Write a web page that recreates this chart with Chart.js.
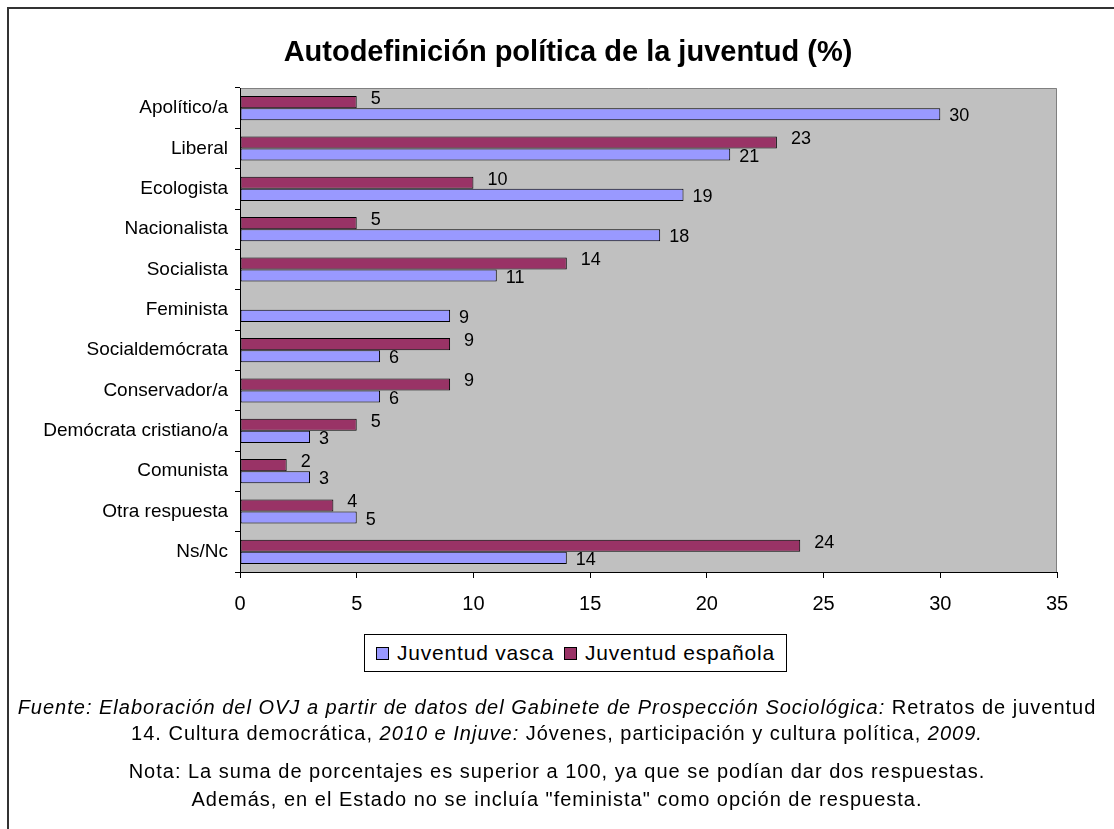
<!DOCTYPE html>
<html>
<head>
<meta charset="utf-8">
<script src="https://cdn.jsdelivr.net/npm/chart.js@4.4.0/dist/chart.umd.min.js"></script>
<style>
  body { margin: 0; background: #fff; font-family: "Liberation Sans", Arial, sans-serif; color: #000; }
  #wrap { position: relative; width: 1114px; height: 829px; overflow: hidden; }
  #frame { position: absolute; left: 7px; top: 7px; width: 1200px; height: 900px; border-left: 2px solid #333; border-top: 2px solid #333; }
  #chart { position: absolute; left: 0; top: 0; }
  #title { position: absolute; left: 11px; width: 1114px; top: 33px; text-align: center; font-weight: bold; font-size: 29px; line-height: 36px; }
  #legend { position: absolute; left: 364px; top: 634px; width: 421px; height: 36px; border: 1px solid #000; background: #fff; }
  #legend .sw { position: absolute; top: 12px; width: 11px; height: 11px; border: 1px solid #000; }
  #legend .tx { position: absolute; top: 5px; font-size: 21px; line-height: 26px; letter-spacing: 0.8px; white-space: nowrap; }
  .foot { position: absolute; left: 0; width: 1114px; text-align: center; font-size: 20px; letter-spacing: 1px; line-height: 24px; white-space: nowrap; }
</style>
</head>
<body>
<div id="wrap">
  <div id="frame"></div>
  <canvas id="chart" width="1114" height="829"></canvas>
  <div id="title">Autodefinición política de la juventud (%)</div>
  <div id="legend">
    <div class="sw" style="left:11px;background:#9999FF"></div>
    <div class="tx" style="left:32px">Juventud vasca</div>
    <div class="sw" style="left:199px;background:#993366"></div>
    <div class="tx" style="left:220px">Juventud española</div>
  </div>
  <div class="foot" style="top:695px"><i>Fuente: Elaboración del OVJ a partir de datos del Gabinete de Prospección Sociológica:</i> Retratos de juventud</div>
  <div class="foot" style="top:721px">14. Cultura democrática, <i>2010 e Injuve:</i> Jóvenes, participación y cultura política, <i>2009.</i></div>
  <div class="foot" style="top:759px">Nota: La suma de porcentajes es superior a 100, ya que se podían dar dos respuestas.</div>
  <div class="foot" style="top:787px">Además, en el Estado no se incluía "feminista" como opción de respuesta.</div>
</div>
<script>
const categorias = ["Apolítico/a", "Liberal", "Ecologista", "Nacionalista", "Socialista", "Feminista",
  "Socialdemócrata", "Conservador/a", "Demócrata cristiano/a", "Comunista", "Otra respuesta", "Ns/Nc"];
const juventudVasca = [30, 21, 19, 18, 11, 9, 6, 6, 3, 3, 5, 14];
const juventudEspanola = [5, 23, 10, 5, 14, null, 9, 9, 5, 2, 4, 24];
const ticksX = [0, 5, 10, 15, 20, 25, 30, 35];

// fondo gris del área de trazado
const plotBg = {
  id: "plotBg",
  beforeDraw(chart) {
    const { ctx, chartArea: a } = chart;
    ctx.save();
    ctx.fillStyle = "#C0C0C0";
    ctx.fillRect(a.left, a.top, a.right - a.left, a.bottom - a.top);
    ctx.strokeStyle = "#808080";
    ctx.lineWidth = 1;
    ctx.beginPath();
    ctx.moveTo(a.left, a.top + 0.5);
    ctx.lineTo(a.right - 0.5, a.top + 0.5);
    ctx.lineTo(a.right - 0.5, a.bottom);
    ctx.stroke();
    ctx.restore();
  }
};

// etiquetas de valor al final de cada barra
const valueLabels = {
  id: "valueLabels",
  afterDatasetsDraw(chart) {
    const ctx = chart.ctx;
    ctx.save();
    ctx.font = "18px 'Liberation Sans', Arial, sans-serif";
    ctx.fillStyle = "#000";
    ctx.textAlign = "left";
    ctx.textBaseline = "middle";
    chart.data.datasets.forEach((ds, i) => {
      const meta = chart.getDatasetMeta(i);
      const dx = i === 0 ? 14 : 9;
      const dy = i === 0 ? -3 : 2;
      meta.data.forEach((bar, j) => {
        const v = ds.data[j];
        if (v === null) return;
        ctx.fillText(String(v), bar.x + dx, bar.y + dy);
      });
    });
    ctx.restore();
  }
};

new Chart(document.getElementById("chart"), {
  type: "bar",
  data: {
    labels: categorias,
    datasets: [
      { label: "Juventud española", data: juventudEspanola, backgroundColor: "#993366", borderColor: "#000", borderWidth: 1, borderSkipped: false },
      { label: "Juventud vasca", data: juventudVasca, backgroundColor: "#9999FF", borderColor: "#000", borderWidth: 1, borderSkipped: false }
    ]
  },
  options: {
    indexAxis: "y",
    responsive: false,
    animation: false,
    datasets: { bar: { categoryPercentage: 0.6, barPercentage: 1 } },
    layout: { padding: { left: 0, top: 88, right: 57, bottom: 207 } },
    plugins: { legend: { display: false }, tooltip: { enabled: false }, title: { display: false } },
    scales: {
      x: {
        min: 0, max: 35,
        afterBuildTicks(scale) { scale.ticks = ticksX.map(v => ({ value: v })); },
        afterFit(scale) { scale.height = 50; },
        border: { display: true, color: "#000", width: 1 },
        grid: { drawOnChartArea: false, drawTicks: true, tickLength: 6, color: "#000" },
        ticks: { color: "#000", padding: 14, font: { family: "'Liberation Sans', Arial, sans-serif", size: 20 } }
      },
      y: {
        afterFit(scale) { scale.width = 240; },
        border: { display: true, color: "#000", width: 1 },
        grid: { offset: true, drawOnChartArea: false, drawTicks: true, tickLength: 5, color: "#000" },
        ticks: { color: "#000", padding: 7, font: { family: "'Liberation Sans', Arial, sans-serif", size: 19 } }
      }
    }
  },
  plugins: [plotBg, valueLabels]
});
</script>
</body>
</html>
